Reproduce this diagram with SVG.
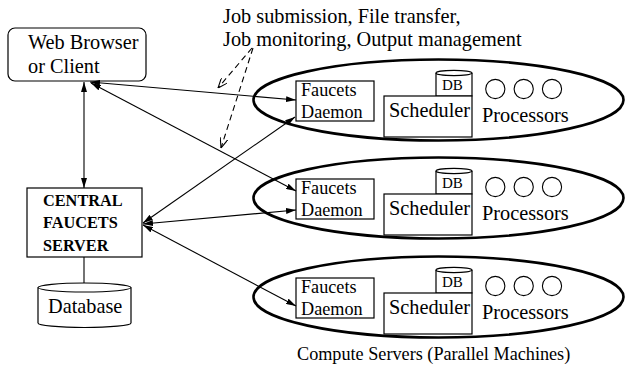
<svg xmlns="http://www.w3.org/2000/svg" width="626" height="373" viewBox="0 0 626 373">
<style>
text{font-family:"Liberation Serif","Times New Roman",serif;fill:#000}
.box{fill:#fff;stroke:#000;stroke-width:1.2}
.ell{fill:none;stroke:#000;stroke-width:2.6}
.ln{fill:none;stroke:#000;stroke-width:1.1}
.dash{fill:none;stroke:#000;stroke-width:1.1;stroke-dasharray:6,4}
.t20{font-size:20.3px}
.t18{font-size:18.2px}
.t15{font-size:15px}
.bold{font-size:16.3px;font-weight:bold}
</style>
<defs>
<marker id="ah" viewBox="0 0 10 6" refX="10" refY="3" markerWidth="10" markerHeight="6" markerUnits="userSpaceOnUse" orient="auto-start-reverse">
<path d="M0,0 L10,3 L0,6 Z" fill="#000"/>
</marker>
<marker id="oh" viewBox="0 0 10 8" refX="10" refY="4" markerWidth="10" markerHeight="8" markerUnits="userSpaceOnUse" orient="auto">
<path d="M0,0 L10,4 L0,8" fill="none" stroke="#000" stroke-width="1.1"/>
</marker>
<g id="machine">
<ellipse class="ell" cx="438.5" cy="100" rx="185" ry="40.5"/>
<rect class="box" x="296" y="81" width="78" height="40"/>
<text class="t18" x="301" y="96">Faucets</text>
<text class="t18" x="301" y="118">Daemon</text>
<path class="box" d="M436,96 V73 A18,2.6 0 0 1 472,73 V96 Z"/>
<path class="ln" d="M436,73 A18,2.6 0 0 0 472,73"/>
<text class="t15" x="442" y="90">DB</text>
<rect class="box" x="384" y="96" width="88" height="41"/>
<text class="t20" x="389" y="117">Scheduler</text>
<circle class="ln" cx="495.3" cy="89" r="9.6"/>
<circle class="ln" cx="523.7" cy="89" r="9.6"/>
<circle class="ln" cx="552" cy="89" r="9.6"/>
<text class="t20" x="482" y="122">Processors</text>
</g>
</defs>

<g id="browser">
<rect class="box" x="8" y="28" width="138" height="53" rx="7"/>
<text class="t20" x="28" y="49">Web Browser</text>
<text class="t20" x="28" y="73">or Client</text>
</g>

<g id="server">
<rect class="box" x="27" y="188" width="115" height="69"/>
<text class="bold" x="43" y="206">CENTRAL</text>
<text class="bold" x="43" y="228">FAUCETS</text>
<text class="bold" x="43" y="251">SERVER</text>
</g>

<g id="database">
<path class="box" d="M38,287.5 V323 A46.5,4.5 0 0 0 131,323 V287.5 A46.5,4.5 0 0 0 38,287.5 Z"/>
<path class="ln" d="M38,287.5 A46.5,4.5 0 0 0 131,287.5"/>
<text class="t20" x="48" y="313">Database</text>
</g>

<g id="machine1"><use href="#machine"/></g>
<g id="machine2"><use href="#machine" transform="translate(0,98)"/></g>
<g id="machine3"><use href="#machine" transform="translate(0,197)"/></g>

<g id="labels">
<text class="t20" x="223" y="23">Job submission, File transfer,</text>
<text class="t20" x="223" y="46">Job monitoring, Output management</text>
<text class="t18" x="297" y="360">Compute Servers (Parallel Machines)</text>
</g>

<g id="connectors">
<line class="ln" x1="84" y1="82" x2="84" y2="188" marker-start="url(#ah)" marker-end="url(#ah)"/>
<line class="ln" x1="84" y1="257" x2="84" y2="283"/>
<line class="ln" x1="90" y1="82" x2="296" y2="100" marker-start="url(#ah)" marker-end="url(#ah)"/>
<line class="ln" x1="91" y1="83" x2="296" y2="191" marker-start="url(#ah)" marker-end="url(#ah)"/>
<line class="ln" x1="143" y1="223" x2="295" y2="117" marker-start="url(#ah)" marker-end="url(#ah)"/>
<line class="ln" x1="143" y1="224" x2="296" y2="210" marker-start="url(#ah)" marker-end="url(#ah)"/>
<line class="ln" x1="143" y1="225" x2="296" y2="306" marker-start="url(#ah)" marker-end="url(#ah)"/>
<line class="dash" x1="252" y1="48" x2="218" y2="88" marker-end="url(#oh)"/>
<line class="dash" x1="253" y1="48" x2="221" y2="148" marker-end="url(#oh)"/>
</g>
</svg>
